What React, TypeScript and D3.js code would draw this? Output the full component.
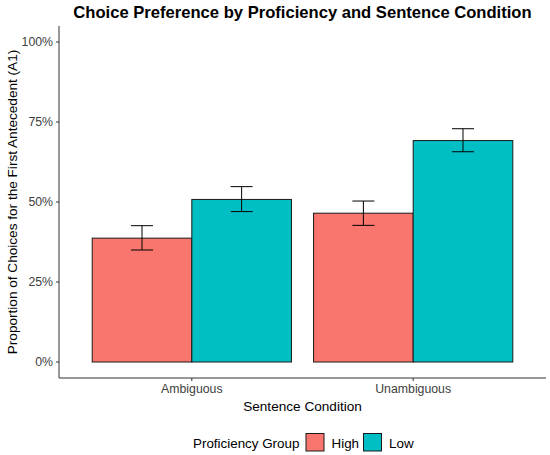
import React from 'react';
import * as d3 from 'd3';

const conditions = ['Ambiguous', 'Unambiguous'];
const groups = ['High', 'Low'];
const groupColors = ['#F8766D', '#00BFC4'];
// proportion, lower CI, upper CI per condition, one array per group
const highMean = [0.387, 0.465];
const highLower = [0.35, 0.427];
const highUpper = [0.426, 0.503];
const lowMean = [0.508, 0.692];
const lowLower = [0.47, 0.657];
const lowUpper = [0.548, 0.729];
const yTicks = [0, 0.25, 0.5, 0.75, 1];

const W = 550;
const H = 455;
const margin = { top: 26, right: 4, bottom: 77, left: 59 };

export default function App() {
  // ggplot-like discrete axis: centers spaced 1 unit, expansion 0.6
  const xc = d3
    .scaleLinear()
    .domain([0.4, conditions.length + 0.6])
    .range([margin.left, W - margin.right]);
  const unit = xc(2) - xc(1);
  const barW = (0.9 * unit) / groups.length;

  const y = d3
    .scaleLinear()
    .domain([-0.05, 1.05])
    .range([H - margin.bottom, margin.top]);

  const bars = conditions.flatMap((c, i) =>
    groups.map((g, j) => {
      const mean = j === 0 ? highMean[i] : lowMean[i];
      const lo = j === 0 ? highLower[i] : lowLower[i];
      const hi = j === 0 ? highUpper[i] : lowUpper[i];
      const left = xc(i + 1) - 0.45 * unit + j * barW;
      return { key: c + g, left, mean, lo, hi, color: groupColors[j] };
    })
  );

  const plotMid = (margin.left + W - margin.right) / 2;
  const panelMid = (margin.top + H - margin.bottom) / 2;
  const capW = 22;
  const font = 'Liberation Sans, Arial, sans-serif';

  return (
    <svg width={W} height={H} style={{ position: 'absolute', left: 0, top: 0 }} fontFamily={font}>
      <rect width={W} height={H} fill="#fff" />
      <text x={plotMid} y={17.5} textAnchor="middle" fontSize={16.6} fontWeight="bold" fill="#000">
        Choice Preference by Proficiency and Sentence Condition
      </text>

      {bars.map((b) => (
        <rect
          key={b.key}
          x={b.left}
          y={y(b.mean)}
          width={barW}
          height={y(0) - y(b.mean)}
          fill={b.color}
          stroke="#1a1a1a"
          strokeWidth={1}
        />
      ))}
      {bars.map((b) => {
        const cx = b.left + barW / 2;
        return (
          <g key={'e' + b.key} stroke="#000" strokeWidth={1}>
            <line x1={cx} x2={cx} y1={y(b.lo)} y2={y(b.hi)} />
            <line x1={cx - capW / 2} x2={cx + capW / 2} y1={y(b.lo)} y2={y(b.lo)} />
            <line x1={cx - capW / 2} x2={cx + capW / 2} y1={y(b.hi)} y2={y(b.hi)} />
          </g>
        );
      })}

      {/* axes */}
      <line x1={margin.left} x2={margin.left} y1={margin.top} y2={H - margin.bottom} stroke="#333" strokeWidth={1} />
      <line x1={margin.left} x2={W - margin.right} y1={H - margin.bottom} y2={H - margin.bottom} stroke="#333" strokeWidth={1} />
      {yTicks.map((t) => (
        <g key={t}>
          <line x1={margin.left - 3} x2={margin.left} y1={y(t)} y2={y(t)} stroke="#333" />
          <text x={margin.left - 6} y={y(t) + 4.3} textAnchor="end" fontSize={12.3} fill="#404040">
            {d3.format('.0%')(t)}
          </text>
        </g>
      ))}
      {conditions.map((c, i) => (
        <g key={c}>
          <line x1={xc(i + 1)} x2={xc(i + 1)} y1={H - margin.bottom} y2={H - margin.bottom + 3} stroke="#333" />
          <text x={xc(i + 1)} y={H - margin.bottom + 15} textAnchor="middle" fontSize={12.3} fill="#404040">
            {c}
          </text>
        </g>
      ))}

      <text x={plotMid} y={411} textAnchor="middle" fontSize={13.6} fill="#000">
        Sentence Condition
      </text>
      <text
        transform={`translate(${16.5},${panelMid}) rotate(-90)`}
        textAnchor="middle"
        fontSize={13.6}
        fill="#000"
      >
        Proportion of Choices for the First Antecedent (A1)
      </text>

      {/* legend */}
      <text x={193} y={447.5} fontSize={13.4} fill="#000">
        Proficiency Group
      </text>
      {groups.map((g, j) => {
        const kx = j === 0 ? 306 : 363.5;
        return (
          <g key={g}>
            <rect x={kx} y={433.5} width={18} height={17.5} fill={groupColors[j]} stroke="#1a1a1a" strokeWidth={1} />
            <text x={kx + 25.5} y={447.5} fontSize={13.4} fill="#000">
              {g}
            </text>
          </g>
        );
      })}
    </svg>
  );
}
